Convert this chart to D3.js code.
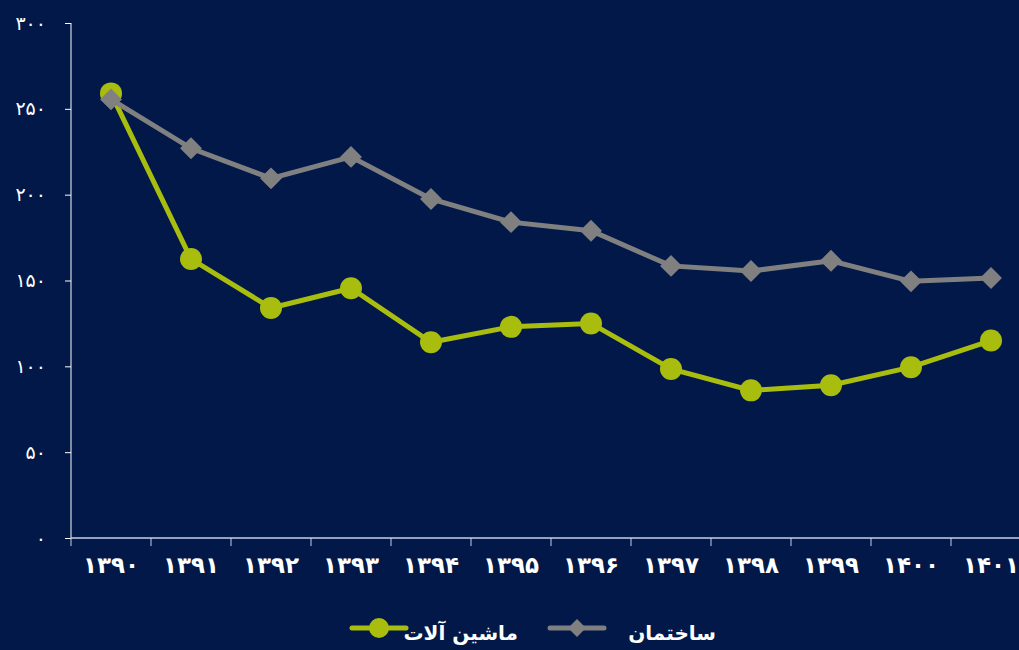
<!DOCTYPE html>
<html>
<head>
  <meta charset="utf-8">
  <script src="https://d3js.org/d3.v7.min.js"></script>
  <style>
    body { margin: 0; background: #011848; }
    svg { display: block; }
    .axis text { font-family: "DejaVu Sans", sans-serif; fill: #ffffff; }
  </style>
</head>
<body>
  <script>
    var years = ['1390', '1391', '1392', '1393', '1394', '1395', '1396', '1397', '1398', '1399', '1400', '1401'];
    var machinery = [259, 162.5, 134, 145.5, 114, 123, 125, 98.5, 86, 89, 99.5, 115];
    var building = [255.5, 227, 209.5, 222, 197.5, 184, 179, 158.5, 155.5, 161.5, 149.5, 151.5];
    var yTicks = [0, 50, 100, 150, 200, 250, 300];
    var seriesNames = ['ماشین آلات', 'ساختمان'];

    var width = 1019, height = 650;
    var toFa = function(s) {
      return String(s).replace(/[0-9]/g, function(c) { return '۰۱۲۳۴۵۶۷۸۹'[+c]; });
    };

    var svg = d3.select('body').append('svg')
      .attr('width', width)
      .attr('height', height);

    var x = d3.scaleBand().domain(years).range([71, 1031]);
    var y = d3.scaleLinear().domain([0, 300]).range([538, 23]);

    // y axis
    var yAxis = svg.append('g')
      .attr('class', 'axis')
      .attr('transform', 'translate(71,0)')
      .call(d3.axisLeft(y).tickValues(yTicks).tickSize(6).tickFormat(toFa));
    yAxis.selectAll('line, path').attr('stroke', '#ffffff');
    yAxis.select('.domain').attr('d', 'M0,23V538');
    yAxis.selectAll('text').attr('x', -25).attr('font-size', 19);

    // x axis
    var xAxis = svg.append('g')
      .attr('class', 'axis')
      .attr('transform', 'translate(0,538)')
      .call(d3.axisBottom(x).tickSize(0).tickFormat(toFa));
    xAxis.select('.domain').attr('d', 'M71,0H1019').attr('stroke', '#c8d0e8').attr('stroke-width', 1.5);
    xAxis.selectAll('text').attr('y', 19).attr('font-size', 23).attr('font-weight', 'bold');
    xAxis.selectAll('.sep').data(years).enter().append('line')
      .attr('x1', function(d) { return x(d); })
      .attr('x2', function(d) { return x(d); })
      .attr('y1', 0).attr('y2', 8)
      .attr('stroke', '#c8d0e8');

    var cx = function(i) { return x(years[i]) + x.bandwidth() / 2; };
    var line = d3.line().x(function(d, i) { return cx(i); }).y(function(d) { return y(d); });

    var green = '#a9bd0f', grey = '#808080';

    svg.append('path').datum(machinery)
      .attr('d', line).attr('fill', 'none').attr('stroke', green).attr('stroke-width', 5);
    svg.selectAll('.dot').data(machinery).enter().append('circle')
      .attr('cx', function(d, i) { return cx(i); })
      .attr('cy', function(d) { return y(d); })
      .attr('r', 11).attr('fill', green);

    var diamond = d3.symbol().type(d3.symbolSquare).size(240);
    svg.append('path').datum(building)
      .attr('d', line).attr('fill', 'none').attr('stroke', grey).attr('stroke-width', 5);
    svg.selectAll('.dia').data(building).enter().append('path')
      .attr('d', diamond)
      .attr('transform', function(d, i) { return 'translate(' + cx(i) + ',' + y(d) + ') rotate(45)'; })
      .attr('fill', grey);

    // legend
    var legend = svg.append('g');
    var items = [
      { name: seriesNames[0], color: green, x0: 352, tx: 518, kind: 'circle' },
      { name: seriesNames[1], color: grey, x0: 550, tx: 716, kind: 'diamond' }
    ];
    items.forEach(function(it) {
      legend.append('line')
        .attr('x1', it.x0).attr('x2', it.x0 + 54)
        .attr('y1', 628).attr('y2', 628)
        .attr('stroke', it.color).attr('stroke-width', 5).attr('stroke-linecap', 'round');
      if (it.kind === 'circle') {
        legend.append('circle').attr('cx', it.x0 + 27).attr('cy', 628).attr('r', 10).attr('fill', it.color);
      } else {
        legend.append('path').attr('d', d3.symbol().type(d3.symbolSquare).size(160))
          .attr('transform', 'translate(' + (it.x0 + 27) + ',628) rotate(45)')
          .attr('fill', it.color);
      }
      legend.append('text')
        .attr('x', it.tx).attr('y', 640)
        .attr('text-anchor', 'end')
        .attr('font-family', '"DejaVu Sans", sans-serif')
        .attr('font-weight', 'bold')
        .attr('font-size', 20)
        .attr('fill', '#ffffff')
        .text(it.name);
    });
  </script>
</body>
</html>
